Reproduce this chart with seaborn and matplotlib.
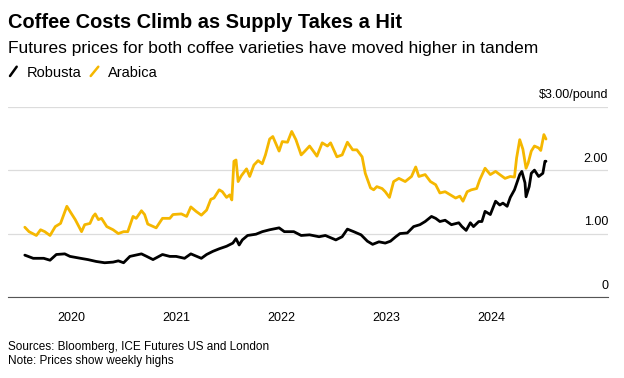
import matplotlib
matplotlib.use("Agg")
import matplotlib.pyplot as plt
from matplotlib.lines import Line2D
import seaborn as sns
import pandas as pd

# values (decimal year, $/pound)
arabica_t = [2019.56, 2019.60, 2019.67, 2019.71, 2019.75, 2019.80, 2019.85, 2019.90, 2019.96, 2019.99,
             2020.04, 2020.10, 2020.13, 2020.18, 2020.21, 2020.23, 2020.26, 2020.29, 2020.34, 2020.40,
             2020.45, 2020.50, 2020.54, 2020.59, 2020.62, 2020.67, 2020.70, 2020.73, 2020.81, 2020.87,
             2020.94, 2020.97, 2021.05, 2021.10, 2021.14, 2021.19, 2021.24, 2021.29, 2021.33, 2021.36,
             2021.41, 2021.44, 2021.48, 2021.51, 2021.53, 2021.55, 2021.57, 2021.59, 2021.62, 2021.67,
             2021.70, 2021.74, 2021.78, 2021.82, 2021.85, 2021.89, 2021.92, 2021.98, 2022.01, 2022.06,
             2022.10, 2022.14, 2022.19, 2022.22, 2022.27, 2022.31, 2022.34, 2022.39, 2022.44, 2022.47,
             2022.53, 2022.58, 2022.63, 2022.68, 2022.72, 2022.77, 2022.80, 2022.85, 2022.88, 2022.91,
             2022.96, 2022.99, 2023.03, 2023.07, 2023.12, 2023.18, 2023.24, 2023.28, 2023.31, 2023.37,
             2023.42, 2023.47, 2023.51, 2023.56, 2023.61, 2023.66, 2023.70, 2023.73, 2023.77, 2023.81,
             2023.86, 2023.89, 2023.94, 2023.99, 2024.04, 2024.08, 2024.13, 2024.18, 2024.22, 2024.24,
             2024.27, 2024.30, 2024.33, 2024.35, 2024.38, 2024.41, 2024.45, 2024.47, 2024.50, 2024.52]
arabica = [1.10, 1.03, 0.97, 1.06, 1.03, 0.97, 1.11, 1.16, 1.43, 1.35,
           1.22, 1.03, 1.14, 1.16, 1.27, 1.31, 1.22, 1.24, 1.11, 1.06,
           1.00, 1.03, 1.03, 1.27, 1.24, 1.36, 1.30, 1.15, 1.09, 1.24,
           1.24, 1.30, 1.31, 1.27, 1.42, 1.35, 1.29, 1.37, 1.54, 1.56,
           1.69, 1.66, 1.57, 1.61, 1.53, 2.14, 2.16, 1.82, 1.91, 2.02,
           1.90, 2.08, 2.15, 2.10, 2.24, 2.49, 2.53, 2.30, 2.45, 2.44,
           2.61, 2.48, 2.24, 2.29, 2.38, 2.29, 2.22, 2.43, 2.38, 2.43,
           2.21, 2.24, 2.44, 2.32, 2.32, 2.21, 1.95, 1.72, 1.69, 1.74,
           1.71, 1.66, 1.57, 1.82, 1.87, 1.82, 1.90, 2.05, 1.90, 1.93,
           1.82, 1.77, 1.64, 1.66, 1.61, 1.56, 1.59, 1.51, 1.66, 1.69,
           1.71, 1.85, 2.03, 1.93, 1.98, 1.93, 1.87, 1.90, 1.89, 2.19,
           2.48, 2.33, 2.03, 2.11, 2.30, 2.38, 2.35, 2.31, 2.56, 2.49]

robusta_t = [2019.56, 2019.64, 2019.74, 2019.80, 2019.86, 2019.94, 2019.99, 2020.09, 2020.16, 2020.24,
             2020.32, 2020.40, 2020.45, 2020.50, 2020.56, 2020.67, 2020.72, 2020.78, 2020.87, 2020.94,
             2021.00, 2021.08, 2021.14, 2021.24, 2021.29, 2021.35, 2021.41, 2021.48, 2021.54, 2021.57,
             2021.60, 2021.63, 2021.68, 2021.76, 2021.82, 2021.89, 2021.98, 2022.03, 2022.08, 2022.12,
             2022.19, 2022.27, 2022.36, 2022.42, 2022.52, 2022.58, 2022.63, 2022.69, 2022.76, 2022.82,
             2022.87, 2022.93, 2022.99, 2023.04, 2023.09, 2023.13, 2023.20, 2023.26, 2023.32, 2023.37,
             2023.43, 2023.47, 2023.51, 2023.56, 2023.62, 2023.69, 2023.72, 2023.76, 2023.80, 2023.83,
             2023.88, 2023.91, 2023.94, 2023.99, 2024.04, 2024.08, 2024.11, 2024.15, 2024.18, 2024.22,
             2024.27, 2024.29, 2024.32, 2024.33, 2024.36, 2024.38, 2024.41, 2024.45, 2024.49, 2024.51,
             2024.52]
robusta = [0.66, 0.61, 0.61, 0.58, 0.67, 0.68, 0.64, 0.61, 0.59, 0.56,
           0.54, 0.55, 0.57, 0.54, 0.64, 0.68, 0.64, 0.59, 0.67, 0.64,
           0.64, 0.61, 0.68, 0.61, 0.67, 0.72, 0.76, 0.80, 0.85, 0.92,
           0.82, 0.90, 0.97, 0.99, 1.03, 1.06, 1.09, 1.03, 1.03, 1.03,
           0.97, 0.98, 0.95, 0.97, 0.90, 0.95, 1.07, 1.03, 0.98, 0.88,
           0.83, 0.87, 0.85, 0.88, 0.95, 1.00, 1.01, 1.11, 1.14, 1.19,
           1.27, 1.24, 1.19, 1.21, 1.14, 1.17, 1.11, 1.05, 1.17, 1.11,
           1.19, 1.19, 1.35, 1.30, 1.51, 1.45, 1.48, 1.43, 1.57, 1.69,
           1.93, 1.98, 1.80, 1.58, 1.74, 1.95, 2.00, 1.90, 1.95, 2.14,
           2.14]

series = ["Robusta", "Arabica"]
colors = ["#000000", "#f5b700"]
year_ticks = [2020, 2021, 2022, 2023, 2024]
y_ticks = [0, 1, 2, 3]
y_labels = ["0", "1.00", "2.00", "$3.00/pound"]


def to_date(yrs):
    return [pd.Timestamp("2019-01-01") + pd.to_timedelta((y - 2019) * 365.25, unit="D") for y in yrs]


df = pd.concat([
    pd.DataFrame({"date": to_date(robusta_t), "price": robusta, "series": "Robusta"}),
    pd.DataFrame({"date": to_date(arabica_t), "price": arabica, "series": "Arabica"}),
])

sns.set_theme(style="white")
plt.rcParams["font.family"] = ["Liberation Sans", "DejaVu Sans"]
plt.rcParams["text.color"] = "#000000"
plt.rcParams["xtick.color"] = "#000000"

fig = plt.figure(figsize=(6.24, 3.78), dpi=100)
ax = fig.add_axes([8 / 624, 81 / 378, 600 / 624, (297 - 106.7) / 378])

sns.lineplot(data=df, x="date", y="price", hue="series", hue_order=series,
             palette=colors, linewidth=2.0, legend=False, ax=ax, zorder=3)

ax.set_xlim(to_date([2019.40])[0], to_date([2025.11])[0])
ax.set_ylim(0, 3)
ax.set_xticks(to_date(year_ticks))
ax.set_xticklabels([str(y) for y in year_ticks])
ax.set_yticks(y_ticks)
ax.set_yticklabels([])
ax.tick_params(axis="y", length=0)
ax.tick_params(axis="x", length=4, width=0.8, color="#555555", pad=7, labelsize=9, labelcolor="#000000")
ax.grid(axis="y", color="#dcdcdc", linewidth=0.9)
ax.grid(axis="x", visible=False)
for s in ["top", "left", "right"]:
    ax.spines[s].set_visible(False)
ax.spines["bottom"].set_color("#555555")
ax.spines["bottom"].set_linewidth(0.8)
ax.set_xlabel("")
ax.set_ylabel("")

for v, lab in zip(y_ticks, y_labels):
    ax.annotate(lab, xy=(1.0, v), xycoords=("axes fraction", "data"), xytext=(0, 6),
                textcoords="offset points", ha="right", va="baseline", fontsize=9,
                color="#000000", annotation_clip=False)

fig.text(8 / 624, 1 - 28 / 378, "Coffee Costs Climb as Supply Takes a Hit",
         fontsize=14.4, fontweight="bold", va="baseline", ha="left", color="#000000")
fig.text(8 / 624, 1 - 53 / 378, "Futures prices for both coffee varieties have moved higher in tandem",
         fontsize=12.5, va="baseline", ha="left", color="#000000")

# legend: slanted strokes + labels
leg_x = [(10, 16.7, 26.7), (90.7, 98.3, 108.3)]
for (x0, x1, xt), name, c in zip(leg_x, series, colors):
    fig.add_artist(Line2D([x0 / 624, x1 / 624], [1 - 76 / 378, 1 - 66.7 / 378],
                          color=c, linewidth=1.8, transform=fig.transFigure))
    fig.text(xt / 624, 1 - 77 / 378, name, fontsize=10.5, va="baseline", ha="left", color="#000000")

fig.text(8 / 624, 1 - 350 / 378, "Sources: Bloomberg, ICE Futures US and London",
         fontsize=8.5, va="baseline", ha="left", color="#000000")
fig.text(8 / 624, 1 - 364 / 378, "Note: Prices show weekly highs",
         fontsize=8.5, va="baseline", ha="left", color="#000000")

fig.savefig("out.png", dpi=100)
